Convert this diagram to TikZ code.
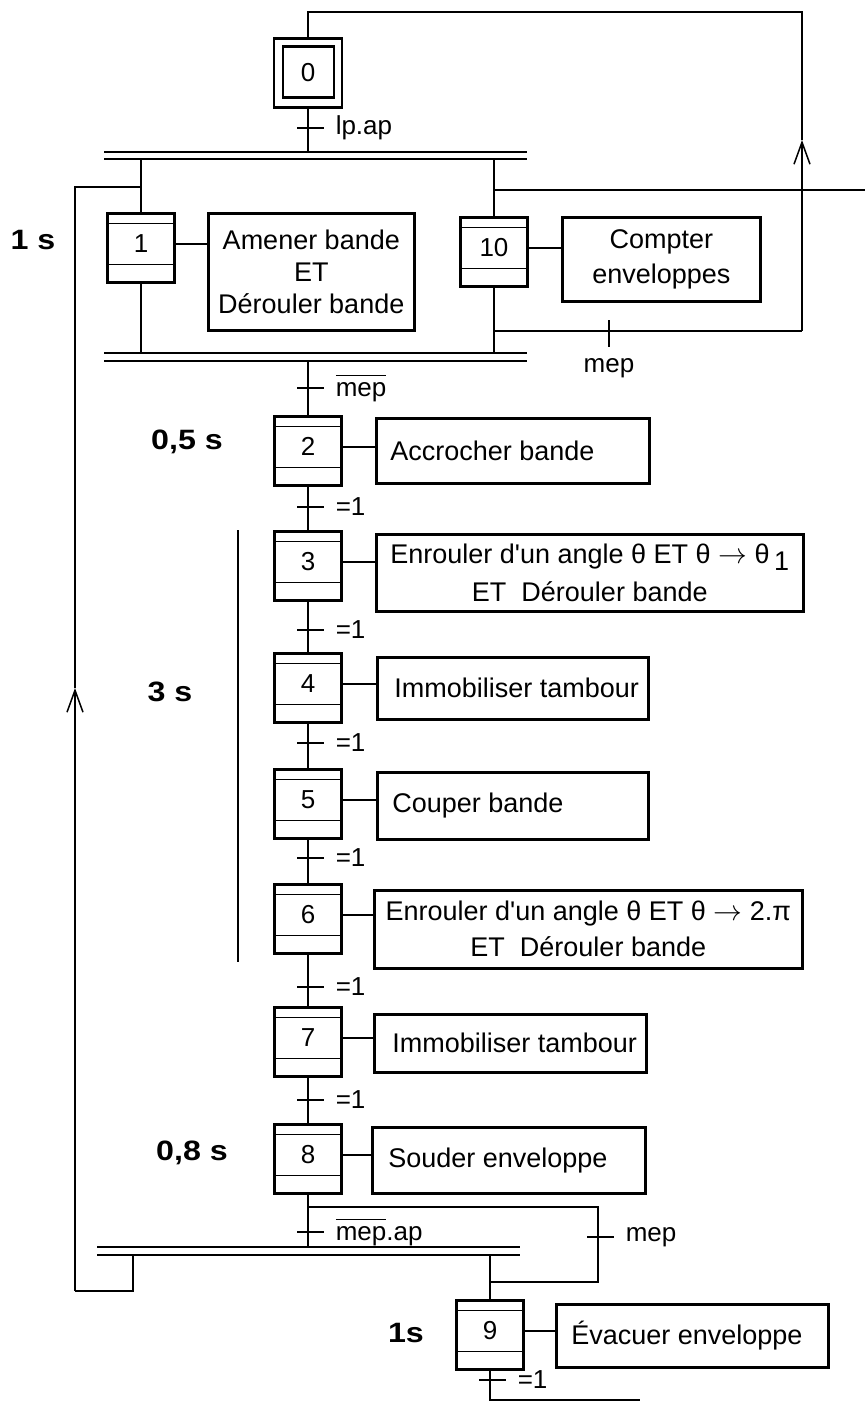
\documentclass[tikz,border=0pt]{standalone}
\usepackage{fontspec}
\setmainfont{Liberation Sans}
\usetikzlibrary{arrows.meta}
\newcommand{\ovl}[1]{\setbox0\hbox{#1}\rlap{\raisebox{1.45ex}{\rule{\wd0}{0.75pt}}}\box0}
\newcommand{\grtrans}[3]{%
  \coordinate (#1) at #2;
  \draw[tickline] ([xshift=-5.5pt]#1) -- ([xshift=8pt]#1);
  \node[tlab] (#1l) at ([xshift=13.5pt]#1) {#3};}
\newcommand{\gto}{\ensuremath{\rightarrow}}
\begin{document}
\begin{tikzpicture}[x=0.5pt,y=-0.5pt,line width=0.75pt,
  stepbox/.style={draw,line width=1.3pt,minimum width=33.5pt,minimum height=34.5pt,
    inner sep=0pt,anchor=north,font=\fontsize{13}{15}\selectfont,
    text height=9.3pt,text depth=4.5pt,
    path picture={\draw[line width=0.8pt]
      ([yshift=-5pt]path picture bounding box.north west) -- ([yshift=-5pt]path picture bounding box.north east)
      ([yshift=9pt]path picture bounding box.south west) -- ([yshift=9pt]path picture bounding box.south east);}},
  initstep/.style={draw,line width=1.3pt,minimum width=34pt,minimum height=34.5pt,
    inner sep=0pt,anchor=north,font=\fontsize{13}{15}\selectfont,
    path picture={\draw[line width=1.3pt]
      ([shift={(4.5pt,-4pt)}]path picture bounding box.north west) rectangle
      ([shift={(-4pt,5pt)}]path picture bounding box.south east);}},
  act/.style={draw,line width=1.3pt,inner sep=0pt,anchor=north west,font=\fontsize{13.5}{16}\selectfont},
  tickline/.style={line width=1.2pt},
  tlab/.style={inner sep=0pt,anchor=west,font=\fontsize{13}{15}\selectfont},
  dur/.style={inner sep=0pt,font=\bfseries\fontsize{14}{16}\selectfont},
  bar/.style={line width=1.2pt},
  upar/.style={-{Straight Barb[length=11pt,width=8pt]}}
]
\fill[white] (0,0) rectangle (865,1404);
\useasboundingbox (0,0) rectangle (865,1404);

% steps
\node[initstep] (s0) at (308,37) {0};
\node[stepbox] (s1) at (141,212) {1};
\node[stepbox] (s10) at (494,216) {10};
\node[stepbox] (s2) at (308,415) {2};
\node[stepbox] (s3) at (308,530) {3};
\node[stepbox] (s4) at (308,652) {4};
\node[stepbox] (s5) at (308,768) {5};
\node[stepbox] (s6) at (308,883) {6};
\node[stepbox] (s7) at (308,1006) {7};
\node[stepbox] (s8) at (308,1123) {8};
\node[stepbox] (s9) at (490,1299) {9};

% actions
\node[act,minimum width=103pt,minimum height=58.5pt,align=center] (a1) at (207,212) {Amener bande\\ET\\Dérouler bande};
\node[act,minimum width=99pt,minimum height=42pt,align=center,font=\fontsize{13.5}{17.5}\selectfont] (a10) at (561,216) {Compter\\enveloppes};
\node[act,minimum width=136.5pt,minimum height=32.5pt] (a2) at (375,417) {\makebox[122.5pt][l]{Accrocher bande}};
\node[act,minimum width=213.5pt,minimum height=38.5pt,align=center,font=\fontsize{13.5}{19}\selectfont] (a3) at (375,533) {Enrouler d\textquotesingle un angle θ ET θ \gto{} θ\,\raisebox{-0.5ex}{1}\\ET\ \ Dérouler bande};
\node[act,minimum width=135.5pt,minimum height=31pt] (a4) at (376,656) {\makebox[118.5pt][l]{Immobiliser tambour}};
\node[act,minimum width=135.5pt,minimum height=33.5pt] (a5) at (376,771) {\makebox[120.5pt][l]{Couper bande}};
\node[act,minimum width=214pt,minimum height=39pt,align=center,font=\fontsize{13.5}{18}\selectfont] (a6) at (373,889) {Enrouler d\textquotesingle un angle θ ET θ \gto{} 2.π\\ET\ \ Dérouler bande};
\node[act,minimum width=136pt,minimum height=29pt] (a7) at (373,1013) {\makebox[118pt][l]{Immobiliser tambour}};
\node[act,minimum width=136.5pt,minimum height=33pt] (a8) at (371,1126) {\makebox[120.5pt][l]{Souder enveloppe}};
\node[act,minimum width=136pt,minimum height=31.5pt] (a9) at (555,1303) {\makebox[121pt][l]{Évacuer enveloppe}};

\foreach \s/\a in {s1/a1,s10/a10,s2/a2,s3/a3,s4/a4,s5/a5,s6/a6,s7/a7,s8/a8,s9/a9}
  \draw ([yshift=2pt]\s.east) -- ([yshift=2pt]\s.east -| \a.west);

% double bars
\coordinate (b1t) at (104,152); \coordinate (b1b) at (104,159);
\coordinate (b2t) at (104,353); \coordinate (b2b) at (104,361);
\coordinate (b3t) at (97,1247); \coordinate (b3b) at (97,1255);
\draw[bar] (b1t) -- ++(423,0) (b1b) -- ++(423,0);
\draw[bar] (b2t) -- ++(423,0) (b2b) -- ++(423,0);
\draw[bar] (b3t) -- ++(423,0) (b3b) -- ++(423,0);

% vertical links
\draw (s0.south) -- (s0.south |- b1t);
\draw (s1.north) -- (s1.north |- b1b);
\draw (s10.north) -- (s10.north |- b1b);
\draw (s1.south) -- (s1.south |- b2t);
\draw (s10.south) -- (s10.south |- b2t);
\draw (s2.north) -- (s2.north |- b2b);
\draw (s2.south) -- (s3.north);
\draw (s3.south) -- (s4.north);
\draw (s4.south) -- (s5.north);
\draw (s5.south) -- (s6.north);
\draw (s6.south) -- (s7.north);
\draw (s7.south) -- (s8.north);
\draw (s8.south) -- (s8.south |- b3t);
\draw (s9.north) -- (s9.north |- b3b);

% transitions
\grtrans{t0}{(308,128)}{lp.ap}
\grtrans{t1}{(308,388)}{\ovl{mep}}
\grtrans{t2}{(308,507)}{=1}
\grtrans{t3}{(308,630)}{=1}
\grtrans{t4}{(308,743)}{=1}
\grtrans{t5}{(308,858)}{=1}
\grtrans{t6}{(308,987)}{=1}
\grtrans{t7}{(308,1100)}{=1}
\grtrans{t8}{(308,1232)}{\ovl{mep}.ap}
\grtrans{t9}{(598,1237)}{mep}
\grtrans{t10}{(490,1380)}{=1}

% top-right loop
\coordinate (rc) at (802,331);
\coordinate (ra) at (802,140);
\coordinate (rt) at (802,12);
\draw (rc -| s10.south) -- (rc);
\draw[upar] (rc) -- (ra);
\draw (ra) -- (rt) -- (rt -| s0.north) -- (s0.north);
\coordinate (tm) at (609,331);
\draw[tickline] ([yshift=5.5pt]tm) -- ([yshift=-8pt]tm);
\node[tlab,anchor=north] (tml) at (609,358) {mep};

% line to the right edge
\coordinate (rj) at (865,190);
\draw (rj -| s10.north) -- (rj);

% left loop
\coordinate (lrb) at (133,1255);
\coordinate (lr) at (133,1291);
\coordinate (lb) at (75,1291);
\coordinate (la) at (75,688);
\coordinate (lt) at (75,187);
\draw (lrb) -- (lr) -- (lb);
\draw[upar] (lb) -- (la);
\draw (la) -- (lt) -- (lt -| s1.north);

% branch after step 8
\coordinate (bj) at (308,1207);
\coordinate (bc1) at (598,1207);
\coordinate (bc2) at (598,1282);
\draw (bj) -- (bc1) -- (bc2) -- (bc2 -| s9.north);

% output of step 9
\coordinate (eb) at (490,1400);
\coordinate (ee) at (640,1400);
\draw (s9.south) -- (eb) -- (ee);

% durations
\coordinate (v3a) at (238,530);
\coordinate (v3b) at (238,962);
\draw (v3a) -- (v3b);
\node[dur] (d1) at (33,240) {\scalebox{1.15}[1]{1 s}};
\node[dur] (d2) at (187,442) {\scalebox{1.15}[1]{0,5 s}};
\node[dur] (d3) at (170,692) {\scalebox{1.15}[1]{3 s}};
\node[dur] (d8) at (192,1153) {\scalebox{1.15}[1]{0,8 s}};
\node[dur] (d9) at (406,1333) {\scalebox{1.15}[1]{1s}};
\end{tikzpicture}
\end{document}
